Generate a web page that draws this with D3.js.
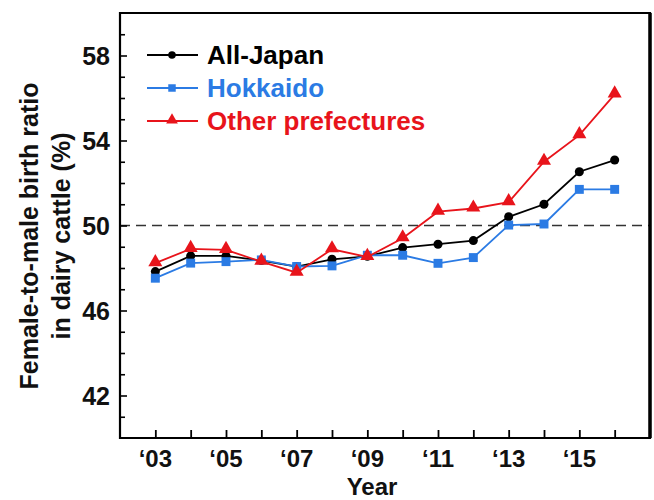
<!DOCTYPE html>
<html>
<head>
<meta charset="utf-8">
<script src="https://cdn.jsdelivr.net/npm/d3@7"></script>
<style>
  html, body { margin: 0; padding: 0; background: #fff; }
  svg { display: block; font-family: "Liberation Sans", Arial, Helvetica, sans-serif; font-weight: bold; }
</style>
</head>
<body>
<svg id="chart" width="654" height="500"></svg>
<script>
const years = [2003, 2004, 2005, 2006, 2007, 2008, 2009, 2010, 2011, 2012, 2013, 2014, 2015, 2016];
const allJapan = [47.83, 48.57, 48.57, 48.35, 48.07, 48.41, 48.55, 48.96, 49.12, 49.29, 50.41, 51.0, 52.53, 53.08];
const hokkaido = [47.52, 48.23, 48.3, 48.38, 48.07, 48.1, 48.6, 48.6, 48.22, 48.49, 50.02, 50.07, 51.7, 51.7];
const otherPref = [48.23, 48.9, 48.85, 48.3, 47.78, 48.88, 48.52, 49.4, 50.65, 50.8, 51.1, 53.0, 54.25, 56.17];
const seriesNames = ["All-Japan", "Hokkaido", "Other prefectures"];
const seriesColors = ["#000000", "#2b7be4", "#e8141b"];
const seriesSymbols = ["circle", "square", "triangle"];
const yTickLabels = [42, 46, 50, 54, 58];
const yMinorTicks = [41, 42, 43, 44, 45, 46, 47, 48, 49, 50, 51, 52, 53, 54, 55, 56, 57, 58, 59];
const xTicks = [2003, 2004, 2005, 2006, 2007, 2008, 2009, 2010, 2011, 2012, 2013, 2014, 2015, 2016];
const xTickLabels = [2003, 2005, 2007, 2009, 2011, 2013, 2015];
const refLine = 50;

const svg = d3.select("#chart");
const L = 120, R = 650, T = 13, B = 438;
const x = d3.scaleLinear().domain([2002, 2017]).range([L, R]);
const y = d3.scaleLinear().domain([40, 60]).range([B, T]);

// Reference dashed line
svg.append("line")
  .attr("x1", L).attr("x2", R).attr("y1", y(refLine)).attr("y2", y(refLine))
  .attr("stroke", "#333").attr("stroke-width", 1.6).attr("stroke-dasharray", "10,6");

// Y axis ticks (inward)
const yAxis = d3.axisRight(y).tickValues(yMinorTicks).tickSize(5).tickFormat("");
const gy = svg.append("g").attr("transform", `translate(${L},0)`).call(yAxis);
gy.select(".domain").remove();
gy.selectAll(".tick line").attr("stroke", "#000").attr("stroke-width", 1.6)
  .attr("x2", d => yTickLabels.includes(d) ? 7 : 5);

// Y tick labels
svg.append("g").selectAll("text").data(yTickLabels).join("text")
  .attr("x", 110).attr("y", d => y(d)).attr("dy", "0.36em")
  .attr("text-anchor", "end").attr("font-size", 25).attr("fill", "#111")
  .text(d => d);

// X axis ticks (inward)
const xAxis = d3.axisTop(x).tickValues(xTicks).tickSize(8).tickFormat("");
const gx = svg.append("g").attr("transform", `translate(0,${B})`).call(xAxis);
gx.select(".domain").remove();
gx.selectAll(".tick line").attr("stroke", "#000").attr("stroke-width", 1.8);

// X tick labels
svg.append("g").selectAll("text").data(xTickLabels).join("text")
  .attr("x", d => x(d)).attr("y", 467)
  .attr("text-anchor", "middle").attr("font-size", 24).attr("fill", "#111")
  .text(d => "\u2018" + String(d).slice(2));

// Frame
svg.append("path")
  .attr("d", `M${L},${T} H${R} V${B} H${L} Z`)
  .attr("fill", "none").attr("stroke", "#000").attr("stroke-width", 2.2);
svg.append("line").attr("x1", R).attr("x2", R).attr("y1", T).attr("y2", B)
  .attr("stroke", "#000").attr("stroke-width", 3.5);

// Axis titles
svg.append("text").attr("x", 372).attr("y", 495).attr("text-anchor", "middle")
  .attr("font-size", 24).attr("fill", "#111").text("Year");
const yt = svg.append("text").attr("transform", "translate(0,236) rotate(-90)")
  .attr("text-anchor", "middle").attr("font-size", 25).attr("fill", "#111");
yt.append("tspan").attr("x", 0).attr("y", 38).text("Female-to-male birth ratio");
yt.append("tspan").attr("x", 0).attr("y", 70).text("in dairy cattle (%)");

// Series
const data = [allJapan, hokkaido, otherPref];
const symbolTypes = { circle: d3.symbolCircle, square: d3.symbolSquare, triangle: d3.symbolTriangle };
const symbolSizes = { circle: 64, square: 80, triangle: 85 };
const line = d3.line().x((d, i) => x(years[i])).y(d => y(d));

data.forEach((vals, s) => {
  const g = svg.append("g");
  g.append("path").datum(vals).attr("d", line)
    .attr("fill", "none").attr("stroke", seriesColors[s]).attr("stroke-width", 1.8);
  const sym = d3.symbol().type(symbolTypes[seriesSymbols[s]]).size(symbolSizes[seriesSymbols[s]]);
  g.selectAll("path.m").data(vals).join("path").attr("class", "m")
    .attr("d", sym)
    .attr("transform", (d, i) => `translate(${x(years[i])},${y(d) + (seriesSymbols[s] === "triangle" ? -1 : 0)})`)
    .attr("fill", seriesColors[s]);
});

// Legend
const legY = [55, 88, 121];
seriesNames.forEach((name, s) => {
  const g = svg.append("g").attr("transform", `translate(0,${legY[s]})`);
  g.append("line").attr("x1", 147).attr("x2", 198).attr("y1", 0).attr("y2", 0)
    .attr("stroke", seriesColors[s]).attr("stroke-width", 1.8);
  const sym = d3.symbol().type(symbolTypes[seriesSymbols[s]]).size(symbolSizes[seriesSymbols[s]] * 0.7);
  g.append("path").attr("d", sym).attr("transform", `translate(172,${seriesSymbols[s] === "triangle" ? -1 : 0})`)
    .attr("fill", seriesColors[s]);
  g.append("text").attr("x", 207).attr("y", 0).attr("dy", "0.36em")
    .attr("font-size", 26).attr("fill", seriesColors[s]).text(name);
});
</script>
</body>
</html>
